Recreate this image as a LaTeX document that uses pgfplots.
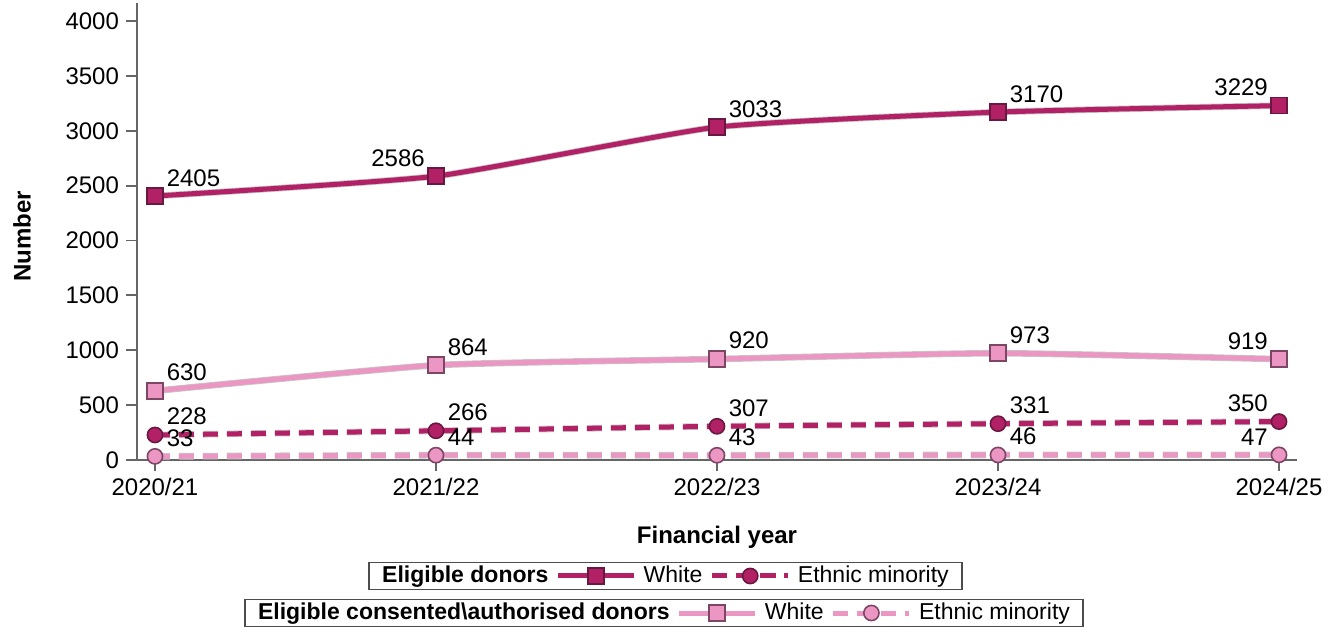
\documentclass[border=0pt]{standalone}
\usepackage{pgfplots}
\usepackage{pgfplotstable}
\pgfplotsset{compat=1.18}
\usepackage{fontspec}
\setmainfont{Liberation Sans}
\definecolor{darkm}{RGB}{178,32,102}
\definecolor{darko}{RGB}{105,25,65}
\definecolor{lightm}{RGB}{235,150,195}
\definecolor{lighto}{RGB}{125,70,100}

\pgfplotstableread{
x y e
0 2405 0
1 2586 1
2 3033 0
3 3170 0
4 3229 1
}\dw
\pgfplotstableread{
x y e
0 228 0
1 266 0
2 307 0
3 331 0
4 350 1
}\dm
\pgfplotstableread{
x y e
0 630 0
1 864 0
2 920 0
3 973 0
4 919 1
}\lw
\pgfplotstableread{
x y e
0 33 0
1 44 0
2 43 0
3 46 0
4 47 1
}\lm

\pgfplotsset{
  /pgf/number format/assume math mode=true,
  /pgf/number format/1000 sep={},
  dwstyle/.style={darkm, line width=2.5pt, solid, mark=square*, mark size=4pt,
    mark options={solid, fill=darkm, draw=darko, line width=0.8pt}},
  dmstyle/.style={darkm, line width=2.5pt, dash pattern=on 7.5pt off 4.5pt, mark=*, mark size=3.8pt,
    mark options={solid, fill=darkm, draw=darko, line width=0.8pt}},
  lwstyle/.style={lightm, line width=2.5pt, solid, mark=square*, mark size=4pt,
    mark options={solid, fill=lightm, draw=lighto, line width=0.8pt}},
  lmstyle/.style={lightm, line width=2.5pt, dash pattern=on 7.5pt off 4.5pt, mark=*, mark size=3.8pt,
    mark options={solid, fill=lightm, draw=lighto, line width=0.8pt}},
  halo/.style={black!22, line width=3.3pt, mark=none, smooth, tension=0.3, forget plot},
  lbl/.style={
    visualization depends on={\thisrow{e}\as\ee},
    nodes near coords={\ifdim\ee pt>0.5pt\llap{\pgfmathprintnumber{\pgfplotspointmeta}\hspace{11.5pt}}\else\pgfmathprintnumber{\pgfplotspointmeta}\fi},
    every node near coord/.append style={anchor=south west, inner xsep=5.5pt, inner ysep=0pt,
      yshift=4.5pt, text=black, font=\fontsize{12}{14}\selectfont}},
  legimg/.style={legend image code/.code={%
    \draw[mark repeat=2,mark phase=2,##1] plot coordinates {(0pt,0pt) (19pt,0pt) (38pt,0pt)};}},
  mylegend/.style={legend columns=3,
    legend style={draw=black!70, line width=0.8pt, font=\fontsize{11.5}{13}\selectfont,
      inner xsep=3pt, inner ysep=0.3pt, nodes={inner ysep=1.6pt, inner xsep=3.6pt}}},
}

\begin{document}
\begin{tikzpicture}
\begin{axis}[name=main, scale only axis, width=580pt, height=228.5pt,
  xmin=-0.064, xmax=4.064, ymin=0, ymax=4164, clip=false,
  axis x line=bottom, axis y line=left,
  axis line style={-, black!60, line width=0.9pt},
  xtick={0,1,2,3,4}, xticklabels={2020/21,2021/22,2022/23,2023/24,2024/25},
  ytick={0,500,...,4000},
  tick align=outside, major tick length=5.5pt,
  tick style={black!60, line width=0.9pt},
  tick label style={font=\fontsize{12}{14}\selectfont},
  xlabel={Financial year}, ylabel={Number},
  xlabel style={font=\bfseries\fontsize{12}{14}\selectfont, at={(axis description cs:0.5,0)}, anchor=center, yshift=-38.5pt},
  ylabel style={font=\bfseries\fontsize{12}{14}\selectfont, at={(axis description cs:-0.0991,0.49)}, anchor=center},
  legimg, mylegend,
  legend style={at={(axis description cs:0.4556,-0.2538)}, anchor=center},
]
\addlegendimage{empty legend}
\addlegendentry{\textbf{Eligible donors}\hspace{8.5pt}}

\addplot[halo] table[x=x,y=y] {\dw};
\addplot[halo] table[x=x,y=y] {\lw};
\addplot[halo, dash pattern=on 7.5pt off 4.5pt] table[x=x,y=y] {\dm};
\addplot[halo, dash pattern=on 7.5pt off 4.5pt] table[x=x,y=y] {\lm};

\addplot[dwstyle, smooth, tension=0.3, lbl] table[x=x,y=y] {\dw};
\addlegendentry{White}
\addplot[dmstyle, smooth, tension=0.3, lbl] table[x=x,y=y] {\dm};
\addlegendentry{Ethnic minority}
\addplot[lwstyle, smooth, tension=0.3, lbl, forget plot] table[x=x,y=y] {\lw};
\addplot[lmstyle, smooth, tension=0.3, lbl, forget plot] table[x=x,y=y] {\lm};
\end{axis}

\begin{axis}[scale only axis, width=580pt, height=228.5pt, hide axis,
  xmin=0, xmax=1, ymin=0, ymax=1,
  legimg, mylegend,
  legend style={at={(axis description cs:0.4543,-0.3348)}, anchor=center},
]
\addlegendimage{empty legend}
\addlegendentry{\textbf{Eligible consented\textbackslash authorised donors}\hspace{8.5pt}}
\addlegendimage{lwstyle}
\addlegendentry{White}
\addlegendimage{lmstyle}
\addlegendentry{Ethnic minority}
\end{axis}

\pgfresetboundingbox
\path[use as bounding box] ([xshift=-68.5pt,yshift=-85.5pt]main.south west) rectangle ++(669pt,315.5pt);
\end{tikzpicture}
\end{document}
